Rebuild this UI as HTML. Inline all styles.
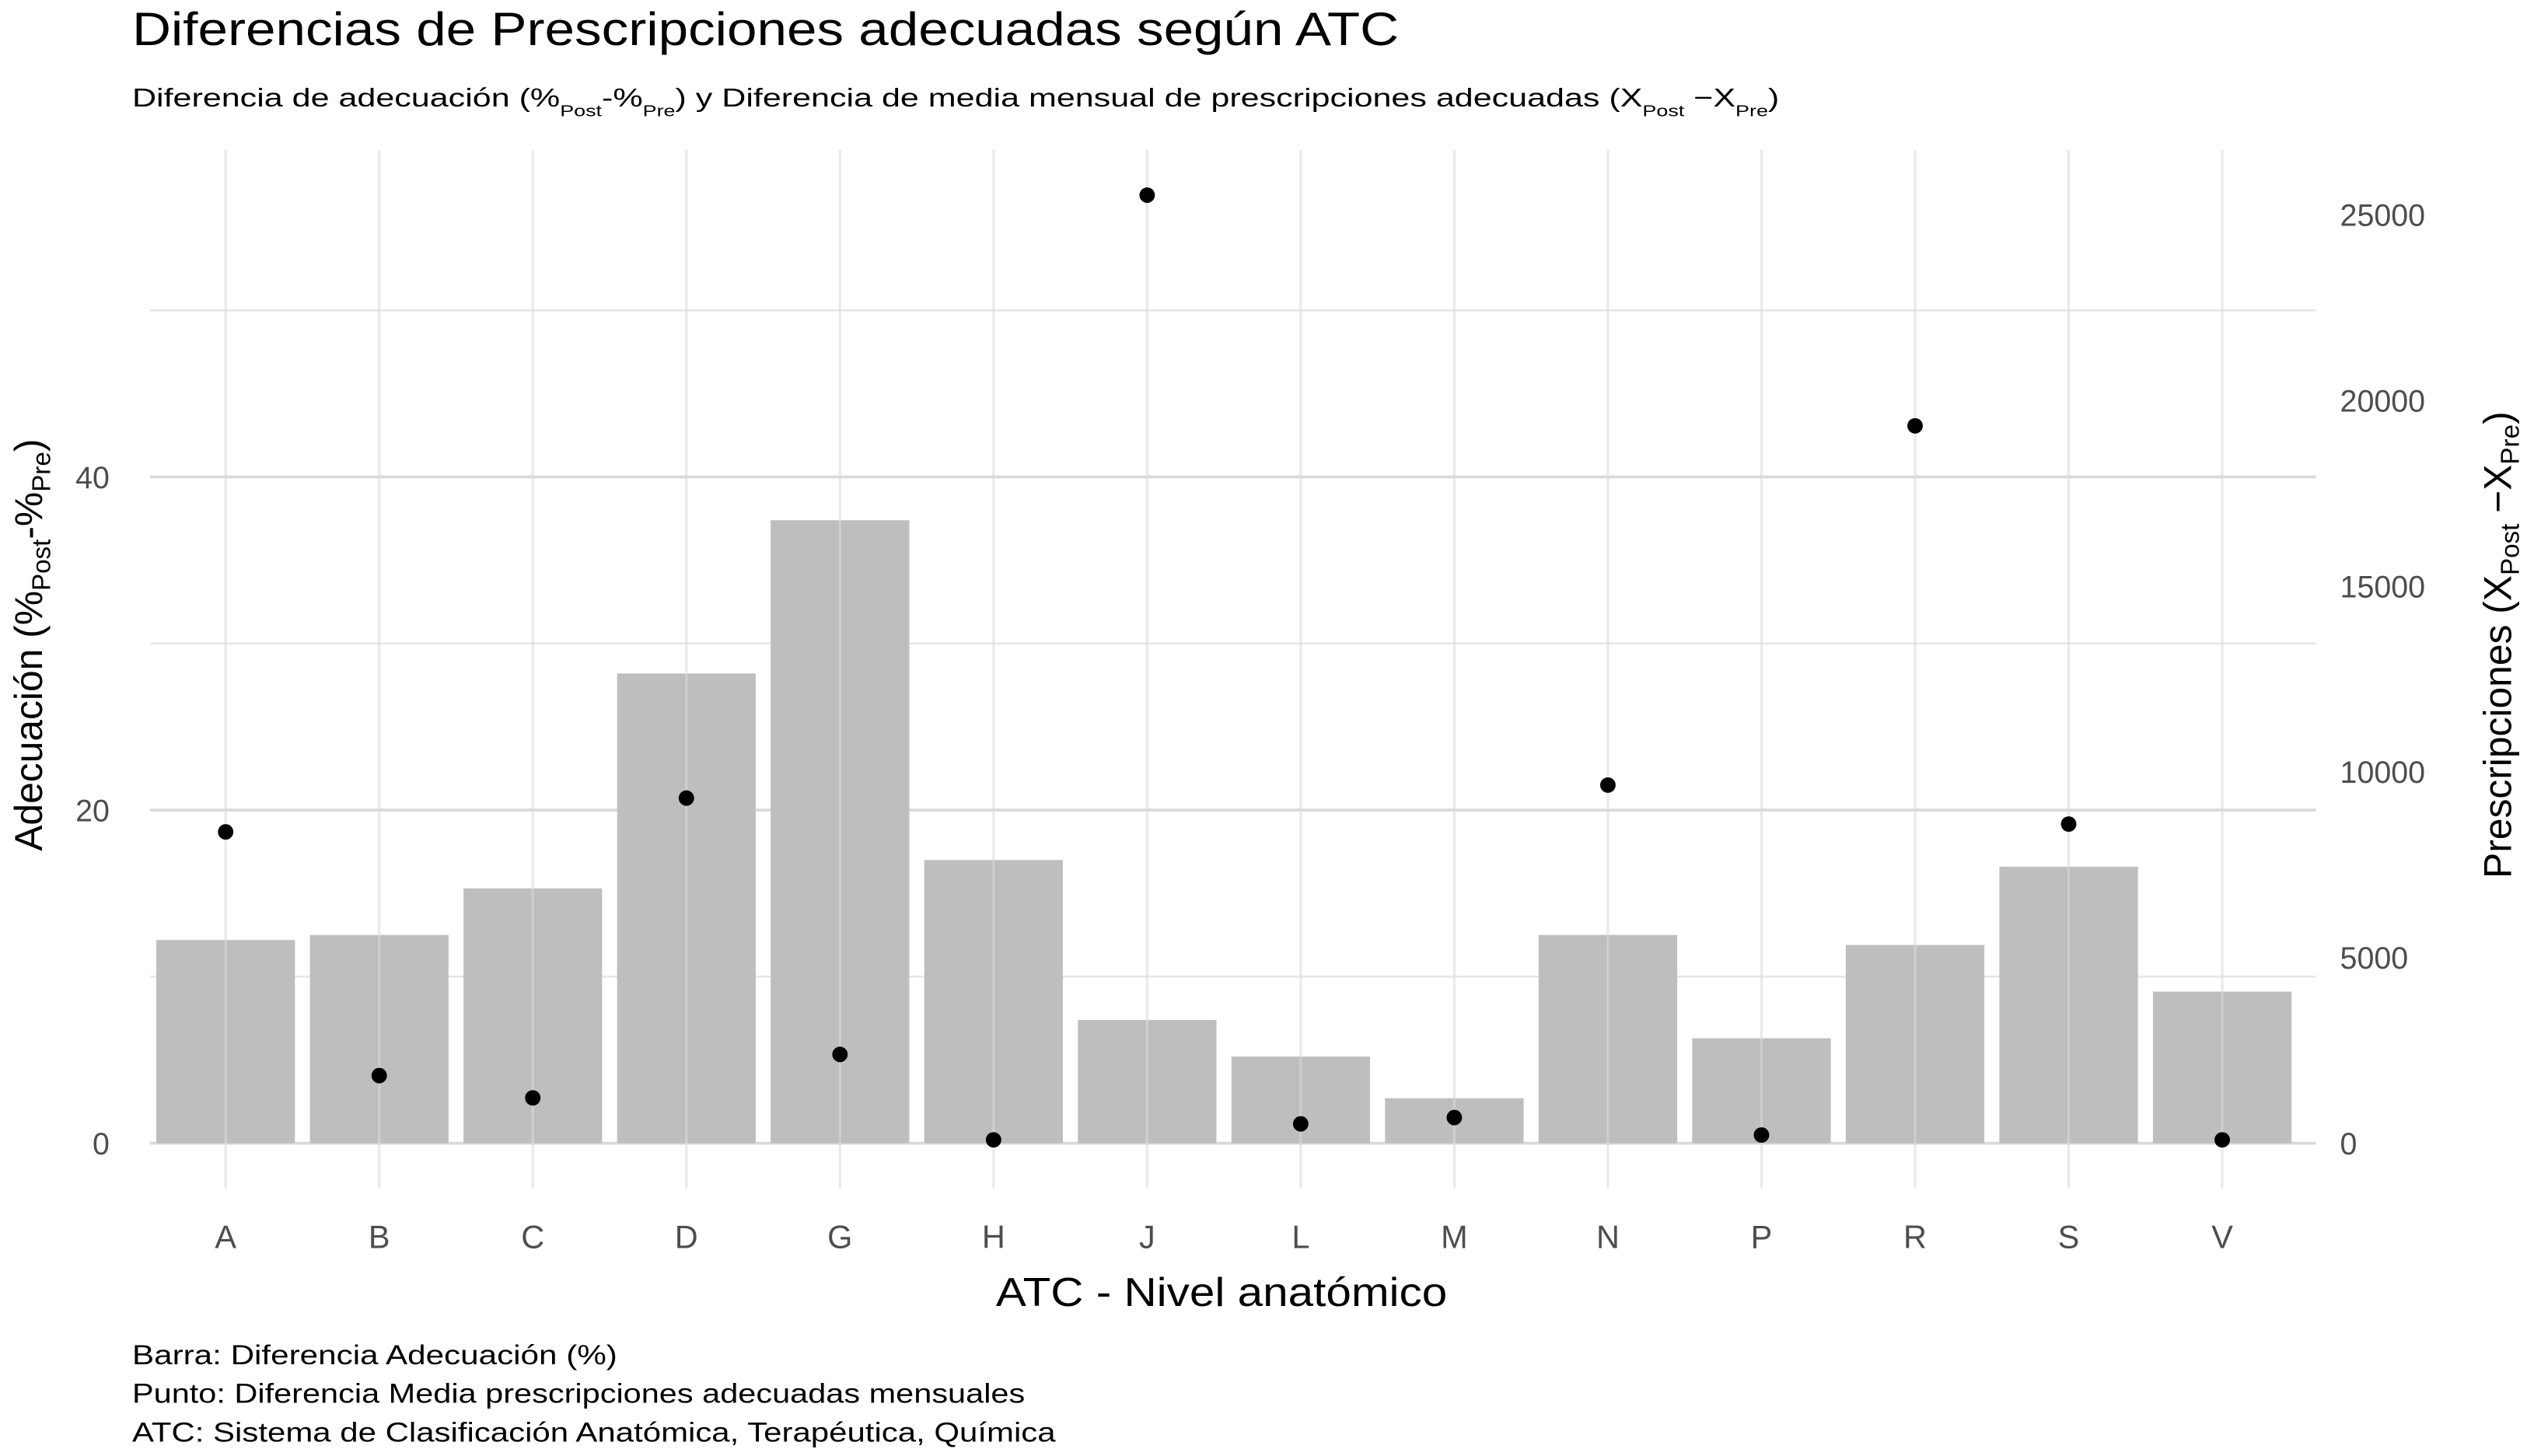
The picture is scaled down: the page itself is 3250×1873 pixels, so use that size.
<!DOCTYPE html>
<html><head><meta charset="utf-8"><style>
html,body{margin:0;padding:0;background:#fff;}
svg{display:block;}
text{font-family:"Liberation Sans",sans-serif;}
</style></head><body>
<svg id="chart" width="3250" height="1873" viewBox="0 0 1568 903" preserveAspectRatio="none" xmlns="http://www.w3.org/2000/svg">
<rect width="1568" height="903" fill="#fff"/>
<text x="82" y="28" font-size="29" fill="#000" textLength="786" lengthAdjust="spacingAndGlyphs">Diferencias de Prescripciones adecuadas según ATC</text>
<text x="82" y="66" font-size="16" fill="#000" textLength="1022" lengthAdjust="spacingAndGlyphs">Diferencia de adecuación (%<tspan font-size="10" dy="6">Post</tspan><tspan dy="-6">-%</tspan><tspan font-size="10" dy="6">Pre</tspan><tspan dy="-6">) y Diferencia de media mensual de prescripciones adecuadas (X</tspan><tspan font-size="10" dy="6">Post</tspan><tspan dy="-6"> −X</tspan><tspan font-size="10" dy="6">Pre</tspan><tspan dy="-6">)</tspan></text>
<g id="grid"></g>
<g id="bars"></g>
<g id="vgrid"></g>
<g id="points"></g>
<g id="axes"></g>
<text transform="translate(26,400) rotate(-90)" text-anchor="middle" font-size="24" fill="#000">Adecuación (%<tspan font-size="16" dy="5">Post</tspan><tspan dy="-5">-%</tspan><tspan font-size="16" dy="5">Pre</tspan><tspan dy="-5">)</tspan></text>
<text transform="translate(1558,400) rotate(-90)" text-anchor="middle" font-size="24" fill="#000">Prescripciones (X<tspan font-size="16" dy="5">Post</tspan><tspan dy="-5"> −X</tspan><tspan font-size="16" dy="5">Pre</tspan><tspan dy="-5">)</tspan></text>
<text x="618" y="810" font-size="25" fill="#000" textLength="280" lengthAdjust="spacingAndGlyphs">ATC - Nivel anatómico</text>
<g font-size="17" fill="#000">
<text x="82" y="846" textLength="301" lengthAdjust="spacingAndGlyphs">Barra: Diferencia Adecuación (%)</text>
<text x="82" y="870" textLength="554" lengthAdjust="spacingAndGlyphs">Punto: Diferencia Media prescripciones adecuadas mensuales</text>
<text x="82" y="894" textLength="573" lengthAdjust="spacingAndGlyphs">ATC: Sistema de Clasificación Anatómica, Terapéutica, Química</text>
</g>
</svg>
<script>
const categories=["A","B","C","D","G","H","J","L","M","N","P","R","S","V"];
const barValues=[12.2,12.5,15.3,28.2,37.4,17.0,7.4,5.2,2.7,12.5,6.3,11.9,16.6,9.1];
const pointValues=[8380,1820,1220,9290,2390,90,25520,520,690,9640,220,19310,8590,90];
const leftTicks=[0,20,40];
const leftMinor=[10,30,50];
const rightTicks=[0,5000,10000,15000,20000,25000];

const NS="http://www.w3.org/2000/svg";
const panelL=93,panelR=1437,panelT=93,panelB=737;
const y0=709, pxPerUnit=10.33, pxPerRight=115.2/5000;
const yL=v=>y0-v*pxPerUnit;
const yR=v=>y0-v*pxPerRight;
const x=i=>140+i*95.3;
const bw=86;
function mk(tag,attrs,parent){const e=document.createElementNS(NS,tag);for(const k in attrs)e.setAttribute(k,attrs[k]);parent.appendChild(e);return e;}
const grid=document.getElementById('grid'),bars=document.getElementById('bars'),vgrid=document.getElementById('vgrid'),pts=document.getElementById('points'),axes=document.getElementById('axes');
leftMinor.forEach(v=>{const l=mk('line',{x1:panelL,x2:panelR,y1:yL(v),y2:yL(v),stroke:'#e6e6e6','stroke-width':1.2},grid);

});
leftTicks.forEach(v=>{const l=mk('line',{x1:panelL,x2:panelR,y1:yL(v),y2:yL(v),stroke:'#dadada','stroke-width':1.8},grid);


const t=mk('text',{x:68,y:yL(v)+7,'text-anchor':'end','font-size':19,fill:'#4d4d4d'},axes);t.textContent=v;

});
rightTicks.forEach(v=>{const t=mk('text',{x:1452,y:yR(v)+7,'font-size':19,fill:'#4d4d4d'},axes);t.textContent=v;

});
categories.forEach((c,i)=>{
const r=mk('rect',{x:x(i)-bw/2,y:yL(barValues[i]),width:bw,height:y0-yL(barValues[i]),fill:'#bebebe'},bars);


const l=mk('line',{x1:x(i),x2:x(i),y1:panelT,y2:panelB,stroke:'#dadada','stroke-width':1.5,'stroke-opacity':0.6},vgrid);


const p=mk('circle',{cx:x(i),cy:yR(pointValues[i]),r:4.8,fill:'#000'},pts);


const t=mk('text',{x:x(i),y:774,'text-anchor':'middle','font-size':20,fill:'#4d4d4d'},axes);t.textContent=c;


});
</script>
</body></html>
